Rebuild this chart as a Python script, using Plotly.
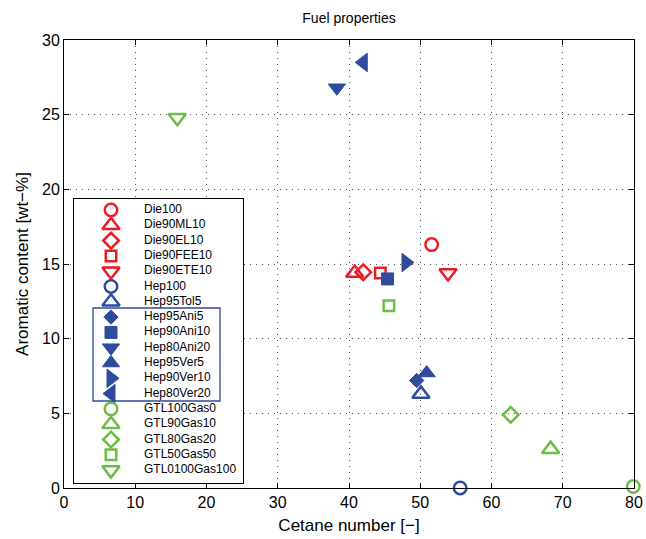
import plotly.graph_objects as go

# Fuel blends: name, cetane number, aromatic content (wt-%)
names = ["Die100", "Die90ML10", "Die90EL10", "Die90FEE10", "Die90ETE10",
         "Hep100", "Hep95Tol5", "Hep95Ani5", "Hep90Ani10", "Hep80Ani20",
         "Hep95Ver5", "Hep90Ver10", "Hep80Ver20",
         "GTL100Gas0", "GTL90Gas10", "GTL80Gas20", "GTL50Gas50", "GTL0100Gas100"]
cetane = [51.6, 40.8, 42.0, 44.4, 53.9,
          55.6, 50.1, 49.5, 45.4, 38.3,
          50.9, 48.0, 42.0,
          79.9, 68.3, 62.7, 45.6, 15.9]
aromatic = [16.3, 14.4, 14.45, 14.4, 14.4,
            0.0, 6.3, 7.2, 14.0, 26.8,
            7.7, 15.1, 28.5,
            0.1, 2.6, 4.9, 12.2, 24.8]
symbols = ["circle-open", "triangle-up-open", "diamond-open", "square-open", "triangle-down-open",
           "circle-open", "triangle-up-open", "diamond", "square", "triangle-down",
           "triangle-up", "triangle-right", "triangle-left",
           "circle-open", "triangle-up-open", "diamond-open", "square-open", "triangle-down-open"]

RED = "#ec1c24"
BLUE = "#2e4b9d"
GREEN = "#6cbd45"
colors = [RED] * 5 + [BLUE] * 8 + [GREEN] * 5
sizes = [12.5, 15, 12, 10.5, 15,
         12.5, 15, 11, 12, 15,
         15, 16, 16,
         12.5, 15, 12, 10.5, 15]
line_w = [2.5 if s.endswith("open") else 1 for s in symbols]

marker_style = dict(symbol=symbols, size=sizes, color=colors, opacity=1,
                    line=dict(color=colors, width=line_w))

fig = go.Figure()

# data points
fig.add_trace(go.Scatter(
    x=cetane, y=aromatic, mode="markers", text=names,
    marker=marker_style, cliponaxis=False, showlegend=False,
    xaxis="x", yaxis="y",
))

# key box drawn as an inset: one row per blend, rows counted in pixels from its top
row_step = 15.3
row_y = [11 + row_step * i for i in range(len(names))]
fig.add_trace(go.Scatter(
    x=[37] * len(names), y=row_y, mode="markers",
    marker=marker_style, showlegend=False, xaxis="x2", yaxis="y2",
    hoverinfo="skip",
))
fig.add_trace(go.Scatter(
    x=[70] * len(names), y=row_y, mode="text", text=names,
    textposition="middle right", textfont=dict(size=12, color="black"),
    showlegend=False, xaxis="x2", yaxis="y2", hoverinfo="skip",
))

axis_common = dict(
    showline=True, linecolor="black", linewidth=1, mirror="ticks",
    ticks="inside", ticklen=5, tickcolor="black",
    showgrid=True, gridcolor="#555555", griddash="1px,5px", gridwidth=1,
    zeroline=False, tickfont=dict(size=16, color="black"), automargin=False,
)

fig.update_layout(
    width=646, height=539,
    margin=dict(l=64, r=12, t=40, b=51),
    paper_bgcolor="white", plot_bgcolor="white",
    font=dict(family="Liberation Sans, Arial, sans-serif", color="black"),
    title=dict(text="Fuel properties", x=0.5, xref="paper", xanchor="center",
               y=1 - 18 / 539, yanchor="middle", font=dict(size=14)),
    xaxis=dict(range=[0, 80], dtick=10, domain=[0, 1],
               title=dict(text="Cetane number [\u2212]", font=dict(size=17), standoff=8),
               **axis_common),
    yaxis=dict(range=[0, 30], dtick=5, domain=[0, 1],
               title=dict(text="Aromatic content [wt\u2212%]", font=dict(size=17), standoff=9),
               **axis_common),
    xaxis2=dict(domain=[10 / 570, 179 / 570], range=[0, 169], anchor="y2",
                showline=True, mirror=True, linecolor="black", linewidth=1,
                showgrid=False, zeroline=False, showticklabels=False, ticks="",
                fixedrange=True),
    yaxis2=dict(domain=[5 / 448, 289 / 448], range=[284, 0], anchor="x2",
                showline=True, mirror=True, linecolor="black", linewidth=1,
                showgrid=False, zeroline=False, showticklabels=False, ticks="",
                fixedrange=True),
    showlegend=False,
)

# blue frame grouping the filled-marker Hep blends in the key
fig.add_shape(type="rect", xref="x2", yref="y2",
              x0=19, x1=146, y0=109, y1=202,
              line=dict(color=BLUE, width=1.3), fillcolor="rgba(0,0,0,0)", layer="above")

fig.write_html("out.html")
